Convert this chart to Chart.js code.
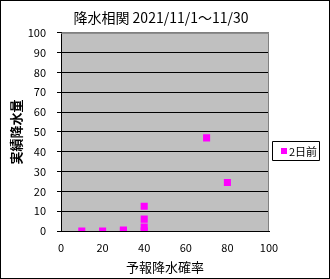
<!DOCTYPE html>
<html>
<head>
<meta charset="utf-8">
<script src="https://cdn.jsdelivr.net/npm/chart.js@4"></script>
<style>
  html, body { margin: 0; padding: 0; background: #fff; }
  canvas { display: block; }
</style>
</head>
<body>
<canvas id="myChart" width="330" height="279"></canvas>
<script>
// forecast precipitation probability (%) vs actual rainfall (mm)
var forecastProb = [10, 20, 30, 30, 40, 40, 40, 40, 70, 80];
var actualRain = [0, 0, 0, 0.5, 0, 2, 6, 12.5, 47, 24.5];
var seriesName = '2日前';
var chartTitle = '降水相関 2021/11/1～11/30';
var xTitle = '予報降水確率';
var yTitle = '実績降水量';

var font = '"Noto Sans CJK JP", sans-serif';
Chart.defaults.font.family = font;
Chart.defaults.color = '#000';

// gray plot area, frame and the boxed legend on the right
var plotBg = {
    id: 'plotBg',
    beforeDraw: function (chart) {
        var ctx = chart.ctx, a = chart.chartArea;
        ctx.save();
        ctx.fillStyle = '#fff';
        ctx.fillRect(0, 0, chart.width, chart.height);
        ctx.fillStyle = '#C0C0C0';
        ctx.fillRect(a.left, a.top, a.right - a.left, a.bottom - a.top);
        ctx.restore();
    },
    afterDraw: function (chart) {
        var ctx = chart.ctx, a = chart.chartArea;
        ctx.save();
        ctx.lineWidth = 1;
        ctx.strokeStyle = '#808080';
        ctx.beginPath();
        ctx.moveTo(a.left, a.top + 0.5);
        ctx.lineTo(a.right - 0.5, a.top + 0.5);
        ctx.lineTo(a.right - 0.5, a.bottom);
        ctx.stroke();
        ctx.strokeStyle = '#000000';
        ctx.strokeRect(0.5, 0.5, chart.width - 1, chart.height - 1);

        // legend
        var ds = chart.data.datasets[0];
        var lx = 272, ly = 141, lw = 48, lh = 20;
        ctx.fillStyle = '#fff';
        ctx.fillRect(lx, ly, lw, lh);
        ctx.beginPath();
        ctx.rect(lx + 0.5, ly + 0.5, lw - 1, lh - 1);
        ctx.strokeStyle = '#000000';
        ctx.stroke();
        ctx.fillStyle = ds.backgroundColor;
        ctx.fillRect(lx + 9, ly + 7, 6, 6);
        ctx.fillStyle = '#000';
        ctx.font = '11px ' + font;
        ctx.textBaseline = 'middle';
        ctx.fillText(ds.label, lx + 17, ly + 10.5);
        ctx.restore();
    }
};

var points = forecastProb.map(function (x, i) {
    return { x: x, y: actualRain[i] };
});

var chart = new Chart(document.getElementById('myChart').getContext('2d'), {
    type: 'scatter',
    data: {
        datasets: [{
            label: seriesName,
            data: points,
            pointStyle: 'rect',
            pointRadius: 5,
            pointHoverRadius: 5,
            pointBorderWidth: 0,
            backgroundColor: '#FF00FF',
            borderColor: '#FF00FF'
        }]
    },
    options: {
        responsive: false,
        animation: false,
        layout: { padding: { left: 0, right: 8, top: 0, bottom: 0 } },
        plugins: {
            legend: { display: false },
            tooltip: { enabled: false },
            title: {
                display: true,
                text: chartTitle,
                font: { size: 14, weight: 'normal' },
                padding: { top: 9, bottom: 7 }
            }
        },
        scales: {
            x: {
                type: 'linear',
                min: 0, max: 100,
                ticks: { stepSize: 20, font: { size: 11 }, padding: 2, maxRotation: 0 },
                grid: { display: false },
                border: { display: true, color: '#000', width: 1 },
                title: { display: true, text: xTitle, font: { size: 13 }, padding: { top: 0, bottom: 4 } },
                afterFit: function (s) { s.height = 48; }
            },
            y: {
                min: 0, max: 100,
                ticks: { stepSize: 10, font: { size: 11 }, padding: 11 },
                grid: {
                    color: function (c) { return c.tick && c.tick.value === 100 ? '#808080' : '#000'; },
                    tickColor: '#000',
                    tickLength: 4,
                    lineWidth: 1
                },
                border: { display: true, color: '#000', width: 1 },
                title: { display: true, text: yTitle, font: { size: 13, weight: 'bold' }, padding: { top: 8, bottom: 0 } },
                afterFit: function (s) { s.width = 61; }
            },
            // empty right-hand scale that keeps room for the legend
            y2: {
                position: 'right',
                display: true,
                ticks: { display: false },
                grid: { display: false },
                border: { display: false },
                afterFit: function (s) { s.width = 53; }
            }
        }
    },
    plugins: [plotBg]
});
</script>
</body>
</html>
